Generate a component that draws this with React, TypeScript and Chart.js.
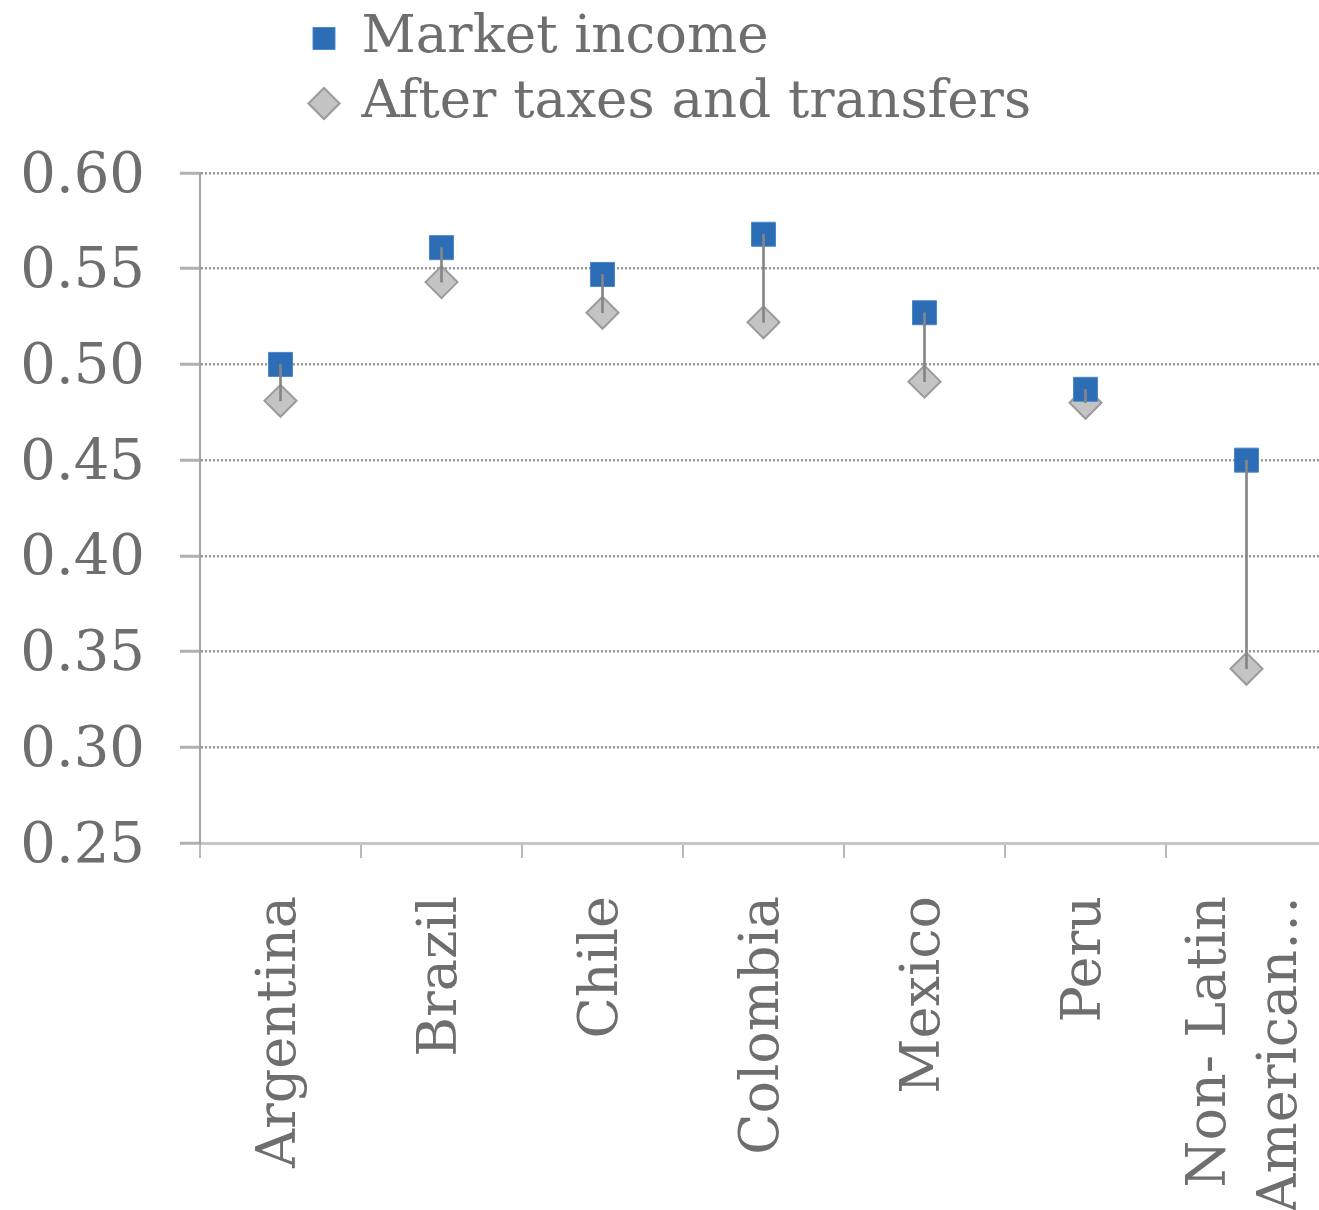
import { useEffect, useRef } from 'react';
import { Chart, registerables } from 'chart.js';

Chart.register(...registerables);

const categories: (string | string[])[] = ['Argentina', 'Brazil', 'Chile', 'Colombia', 'Mexico', 'Peru', ['Non- Latin', 'American…']];
const marketIncome = [0.5, 0.561, 0.547, 0.568, 0.527, 0.487, 0.45];
const afterTaxes = [0.481, 0.543, 0.527, 0.522, 0.491, 0.48, 0.341];
const seriesNames = ['Market income', 'After taxes and transfers'];
const yMin = 0.25;
const yMax = 0.6;
const yStep = 0.05;

const FONT = "'DejaVu Serif', serif";
const TEXT = '#6e6e6e';
const X_FONT_SIZE = 54;
const X_LINE_HEIGHT = 1.3;

const legendPlacer = {
  id: 'legendPlacer',
  afterLayout(chart: any) {
    const lg = chart.legend;
    if (!lg) return;
    const left = 301;
    const width = 800;
    lg.left = left;
    lg.right = left + width;
    lg.width = width;
    lg.top = 0;
    lg.height = 170;
    lg.bottom = 170;
  },
};

const lastLabelShift = {
  id: 'lastLabelShift',
  beforeDraw(chart: any) {
    const s = chart.scales.x;
    if (!s) return;
    const items = s.getLabelItems(chart.chartArea);
    const it = items[items.length - 1];
    if (it && !it._shifted && Array.isArray(it.label)) {
      const lh = X_FONT_SIZE * X_LINE_HEIGHT;
      it.options.translation[0] -= (lh * (it.label.length - 1)) / 2;
      it._shifted = true;
    }
  },
};

export default function App() {
  const ref = useRef<HTMLCanvasElement>(null);
  useEffect(() => {
    const canvas = ref.current!;
    const chart = new Chart(canvas, {
      type: 'bar',
      data: {
        labels: categories,
        datasets: [
          {
            type: 'bar',
            label: 'range',
            data: marketIncome.map((m, i) => [afterTaxes[i], m]),
            backgroundColor: '#858585',
            borderWidth: 0,
            barThickness: 2,
            order: 0,
          } as any,
          {
            type: 'line',
            label: seriesNames[0],
            data: marketIncome,
            showLine: false,
            pointStyle: 'rect',
            pointRadius: 17,
            pointHoverRadius: 17,
            pointBackgroundColor: '#2c6db5',
            pointBorderColor: '#4d88c9',
            pointBorderWidth: 1,
            backgroundColor: '#2c6db5',
            borderColor: '#4d88c9',
            borderWidth: 1,
            order: 1,
          } as any,
          {
            type: 'line',
            label: seriesNames[1],
            data: afterTaxes,
            showLine: false,
            pointStyle: 'rectRot',
            pointRadius: 16,
            pointHoverRadius: 16,
            pointBackgroundColor: '#c4c4c4',
            pointBorderColor: '#9a9a9a',
            pointBorderWidth: 2,
            backgroundColor: '#c4c4c4',
            borderColor: '#9a9a9a',
            borderWidth: 2,
            order: 2,
          } as any,
        ],
      },
      options: {
        responsive: false,
        animation: false,
        events: [],
        layout: { padding: { top: 98, left: 0, right: 0, bottom: 0 } },
        plugins: {
          tooltip: { enabled: false },
          legend: {
            display: true,
            position: 'top',
            align: 'start',
            labels: {
              filter: (item: any) => item.text !== 'range',
              usePointStyle: true,
              boxWidth: 22,
              boxHeight: 22,
              padding: 12,
              color: TEXT,
              font: { family: FONT, size: 53 },
            },
          },
        },
        scales: {
          x: {
            offset: true,
            grid: {
              display: true,
              drawOnChartArea: false,
              drawTicks: true,
              tickLength: 15,
              color: '#b8b8b8',
              tickColor: '#b8b8b8',
              lineWidth: 2,
              tickWidth: 2,
              offset: true,
            },
            border: { display: true, color: '#c6c6c6', width: 3 },
            ticks: {
              autoSkip: false,
              minRotation: 90,
              maxRotation: 90,
              padding: 38,
              color: TEXT,
              font: { family: FONT, size: X_FONT_SIZE, lineHeight: X_LINE_HEIGHT },
            },
            afterFit: (s: any) => {
              s.height = 367;
              s.paddingLeft = 0;
              s.paddingRight = 0;
            },
          },
          y: {
            min: yMin,
            max: yMax,
            ticks: {
              stepSize: yStep,
              callback: (v: any) => Number(v).toFixed(2),
              padding: 35,
              labelOffset: 4,
              color: TEXT,
              font: { family: FONT, size: 56 },
            },
            grid: {
              color: '#989898',
              lineWidth: 2.5,
              tickLength: 20,
              tickColor: '#b0b0b0',
              tickWidth: 3,
              tickBorderDash: [],
            },
            border: { display: true, color: '#a4a4a4', width: 2, dash: [2, 2] },
            afterFit: (s: any) => {
              s.width = 200;
            },
          },
        },
      },
      plugins: [legendPlacer, lastLabelShift],
    } as any);
    return () => chart.destroy();
  }, []);
  return (
    <div style={{ position: 'fixed', left: 0, top: 0, width: 1319, height: 1210, overflow: 'hidden', background: '#fff' }}>
      <canvas ref={ref} width={1345} height={1210} style={{ display: 'block' }} />
    </div>
  );
}
